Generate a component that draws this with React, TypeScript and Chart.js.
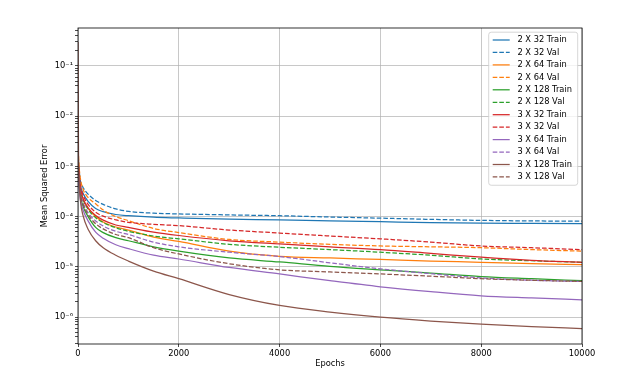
import React, { useEffect, useRef } from 'react';
import { Chart, registerables } from 'chart.js';

Chart.register(...registerables);

// ---------- data ----------
const epochs = [0, 10, 25, 50, 100, 200, 350, 500, 750, 1000, 1500, 2000, 3000, 4000, 5000, 6000, 7000, 8000, 9000, 10000];

const train2x32 = [2e-3, 1.0e-3, 6e-4, 4e-4, 2.9e-4, 2.0e-4, 1.45e-4, 1.25e-4, 1.1e-4, 1.04e-4, 9.7e-5, 9.4e-5, 8.9e-5, 8.6e-5, 8.2e-5, 7.9e-5, 7.6e-5, 7.4e-5, 7.3e-5, 7.2e-5];
const val2x32 = [2.5e-3, 1.3e-3, 8e-4, 5e-4, 3.8e-4, 2.8e-4, 2.1e-4, 1.75e-4, 1.42e-4, 1.27e-4, 1.17e-4, 1.13e-4, 1.08e-4, 1.04e-4, 9.8e-5, 9.3e-5, 8.8e-5, 8.4e-5, 8.2e-5, 8.1e-5];
const train2x64 = [2e-3, 9e-4, 5.2e-4, 3.3e-4, 2.2e-4, 1.45e-4, 1.0e-4, 7.8e-5, 6.2e-5, 5.4e-5, 3.9e-5, 3.2e-5, 2.05e-5, 1.62e-5, 1.5e-5, 1.4e-5, 1.3e-5, 1.23e-5, 1.15e-5, 1.1e-5];
const val2x64 = [3e-3, 1.6e-3, 9e-4, 5.5e-4, 3.5e-4, 2.4e-4, 1.8e-4, 1.35e-4, 1.0e-4, 8.3e-5, 5.8e-5, 4.8e-5, 3.5e-5, 3.1e-5, 2.8e-5, 2.6e-5, 2.5e-5, 2.4e-5, 2.2e-5, 2.05e-5];
const train2x128 = [1.5e-3, 7e-4, 4e-4, 2.5e-4, 1.6e-4, 1.0e-4, 6.1e-5, 4.8e-5, 3.8e-5, 3.3e-5, 2.5e-5, 2.05e-5, 1.5e-5, 1.25e-5, 1.02e-5, 8.7e-6, 7.5e-6, 6.4e-6, 5.8e-6, 5.3e-6];
const val2x128 = [1.8e-3, 9e-4, 5.2e-4, 3.3e-4, 2.2e-4, 1.4e-4, 9.5e-5, 7.6e-5, 6.0e-5, 5.1e-5, 4.1e-5, 3.6e-5, 2.8e-5, 2.45e-5, 2.2e-5, 1.95e-5, 1.7e-5, 1.43e-5, 1.32e-5, 1.23e-5];
const train3x32 = [1.8e-3, 9e-4, 5.5e-4, 3.5e-4, 2.3e-4, 1.5e-4, 1.05e-4, 8.5e-5, 6.8e-5, 6.1e-5, 4.9e-5, 4.2e-5, 3.3e-5, 2.85e-5, 2.5e-5, 2.2e-5, 1.85e-5, 1.55e-5, 1.35e-5, 1.23e-5];
const val3x32 = [2e-3, 1.1e-3, 6.5e-4, 4e-4, 2.7e-4, 1.75e-4, 1.22e-4, 1.02e-4, 8.6e-5, 7.7e-5, 7.0e-5, 6.6e-5, 5.4e-5, 4.7e-5, 4.1e-5, 3.6e-5, 3.1e-5, 2.6e-5, 2.4e-5, 2.2e-5];
const train3x64 = [1.2e-3, 6e-4, 3.4e-4, 2.1e-4, 1.35e-4, 8.2e-5, 4.9e-5, 3.7e-5, 2.75e-5, 2.3e-5, 1.7e-5, 1.43e-5, 9.7e-6, 7.2e-6, 5.3e-6, 4.0e-6, 3.2e-6, 2.65e-6, 2.4e-6, 2.2e-6];
const val3x64 = [1.5e-3, 8e-4, 4.6e-4, 2.9e-4, 1.9e-4, 1.2e-4, 8.2e-5, 6.5e-5, 5.1e-5, 4.4e-5, 3.1e-5, 2.5e-5, 1.95e-5, 1.6e-5, 1.2e-5, 9.1e-6, 7.3e-6, 6.0e-6, 5.4e-6, 5.1e-6];
const train3x128 = [3e-1, 2e-3, 5e-4, 2.0e-4, 1.05e-4, 5.6e-5, 3.3e-5, 2.4e-5, 1.7e-5, 1.3e-5, 8.2e-6, 5.8e-6, 2.8e-6, 1.7e-6, 1.25e-6, 9.9e-7, 8.3e-7, 7.2e-7, 6.4e-7, 5.9e-7];
const val3x128 = [1.5e-3, 7.5e-4, 4.3e-4, 2.7e-4, 1.75e-4, 1.1e-4, 7.2e-5, 5.7e-5, 4.4e-5, 3.8e-5, 2.4e-5, 1.8e-5, 1.15e-5, 8.7e-6, 7.9e-6, 7.2e-6, 6.5e-6, 5.8e-6, 5.4e-6, 5.1e-6];

const seriesLabels = [
  '2 X 32 Train', '2 X 32 Val', '2 X 64 Train', '2 X 64 Val', '2 X 128 Train', '2 X 128 Val',
  '3 X 32 Train', '3 X 32 Val', '3 X 64 Train', '3 X 64 Val', '3 X 128 Train', '3 X 128 Val',
];
const seriesValues = [
  train2x32, val2x32, train2x64, val2x64, train2x128, val2x128,
  train3x32, val3x32, train3x64, val3x64, train3x128, val3x128,
];
const seriesColors = [
  '#1f77b4', '#1f77b4', '#ff7f0e', '#ff7f0e', '#2ca02c', '#2ca02c',
  '#d62728', '#d62728', '#9467bd', '#9467bd', '#8c564b', '#8c564b',
];
const seriesDashed = [false, true, false, true, false, true, false, true, false, true, false, true];

const xTickStep = 2000;
const xMax = 10000;
const yMin = 2.9e-7;
const yMax = 0.57;

// ---------- helpers ----------
const FONT = 'DejaVu Sans';
const FS = 8.3;
const DASH = [4.6, 2.0];

const isPow10 = (v: number) => {
  const l = Math.log10(v);
  return Math.abs(l - Math.round(l)) < 1e-6;
};
const SUP: Record<string, string> = {
  '-': '\u207B', '0': '\u2070', '1': '\u00B9', '2': '\u00B2', '3': '\u00B3', '4': '\u2074',
  '5': '\u2075', '6': '\u2076', '7': '\u2077', '8': '\u2078', '9': '\u2079',
};
const fmtPow = (v: number) =>
  '10' + String(Math.round(Math.log10(v))).split('').map((c) => SUP[c]).join('');

const framePlugin = {
  id: 'frameAndLegend',
  afterDatasetsDraw(chart: any) {
    const { ctx, chartArea } = chart;
    ctx.save();
    ctx.strokeStyle = '#000';
    ctx.lineWidth = 0.8;
    ctx.strokeRect(chartArea.left, chartArea.top, chartArea.right - chartArea.left, chartArea.bottom - chartArea.top);
    ctx.restore();
  },
  afterDraw(chart: any) {
    const { ctx, chartArea } = chart;
    const ds = chart.data.datasets;
    const rowH = 12.45;
    const boxRight = chartArea.right - 4.3;
    const boxTop = chartArea.top + 4.2;
    const boxW = 89;
    const boxH = 3.3 * 2 + 9 + rowH * (ds.length - 1) + 0.5;
    const boxLeft = boxRight - boxW;
    ctx.save();
    ctx.beginPath();
    if (ctx.roundRect) ctx.roundRect(boxLeft, boxTop, boxW, boxH, 2.5);
    else ctx.rect(boxLeft, boxTop, boxW, boxH);
    ctx.fillStyle = 'rgba(255,255,255,0.8)';
    ctx.fill();
    ctx.strokeStyle = '#cccccc';
    ctx.lineWidth = 0.8;
    ctx.stroke();
    ctx.font = `${FS}px "${FONT}"`;
    ctx.textBaseline = 'middle';
    ctx.textAlign = 'left';
    ds.forEach((d: any, i: number) => {
      const y = boxTop + 7.8 + i * rowH;
      ctx.beginPath();
      ctx.strokeStyle = d.borderColor;
      ctx.lineWidth = d.borderWidth;
      ctx.setLineDash(d.borderDash || []);
      ctx.moveTo(boxLeft + 4, y);
      ctx.lineTo(boxLeft + 21, y);
      ctx.stroke();
      ctx.setLineDash([]);
      ctx.fillStyle = '#000';
      ctx.fillText(d.label, boxLeft + 28.7, y);
    });
    ctx.restore();
  },
};

export default function App() {
  const ref = useRef<HTMLCanvasElement | null>(null);

  useEffect(() => {
    document.body.style.margin = '0';
    const canvas = ref.current;
    if (!canvas) return;
    const n = seriesValues.length;
    const datasets = seriesValues.map((vals, i) => ({
      label: seriesLabels[i],
      data: epochs.map((e, j) => ({ x: e, y: vals[j] })),
      borderColor: seriesColors[i],
      backgroundColor: seriesColors[i],
      borderWidth: 1.25,
      borderDash: seriesDashed[i] ? DASH : [],
      pointRadius: 0,
      cubicInterpolationMode: 'monotone',
      fill: false,
      order: n - i,
    }));

    const chart = new Chart(canvas, {
      type: 'line',
      data: { datasets },
      plugins: [framePlugin],
      options: {
        animation: false,
        responsive: false,
        devicePixelRatio: 1,
        layout: { padding: { left: 0, right: 57, top: 28, bottom: 0 } },
        plugins: { legend: { display: false }, tooltip: { enabled: false } },
        scales: {
          x: {
            type: 'linear',
            min: 0,
            max: xMax,
            afterFit: (s: any) => { s.height = 33; },
            border: { display: false },
            grid: { color: '#b0b0b0', lineWidth: 0.7, tickColor: '#000', tickLength: 3, drawTicks: true },
            ticks: {
              stepSize: xTickStep,
              maxRotation: 0,
              autoSkip: false,
              padding: 1.5,
              color: '#000',
              font: { family: FONT, size: FS },
              callback: (v: any) => String(v),
            },
            title: {
              display: true,
              text: 'Epochs',
              color: '#000',
              font: { family: FONT, size: FS, lineHeight: 1.2 },
              padding: { top: 0, bottom: 8 },
            },
          },
          y: {
            type: 'logarithmic',
            min: yMin,
            max: yMax,
            afterFit: (s: any) => { s.width = 78; },
            afterBuildTicks: (s: any) => {
              const t: any[] = [];
              for (let e = -7; e <= 0; e++) {
                for (let m = 1; m <= 9; m++) {
                  const v = m * Math.pow(10, e);
                  if (v >= s.min && v <= s.max) t.push({ value: v, major: m === 1 });
                }
              }
              s.ticks = t;
            },
            border: { display: false },
            grid: {
              color: (c: any) => (c.tick && isPow10(c.tick.value) ? '#b0b0b0' : 'rgba(0,0,0,0)'),
              lineWidth: 0.7,
              tickColor: '#000',
              tickLength: 3,
            },
            ticks: {
              autoSkip: false,
              padding: 2,
              color: '#000',
              font: { family: FONT, size: FS },
              callback: (v: any) => (isPow10(Number(v)) ? fmtPow(Number(v)) : ''),
            },
            title: {
              display: true,
              text: 'Mean Squared Error',
              color: '#000',
              font: { family: FONT, size: FS, lineHeight: 1.2 },
              padding: { top: 39.5, bottom: 0 },
            },
          },
        },
      },
    } as any);
    return () => chart.destroy();
  }, []);

  return (
    <div style={{ width: 639, height: 377 }}>
      <canvas ref={ref} width={639} height={377} style={{ display: 'block' }} />
    </div>
  );
}
